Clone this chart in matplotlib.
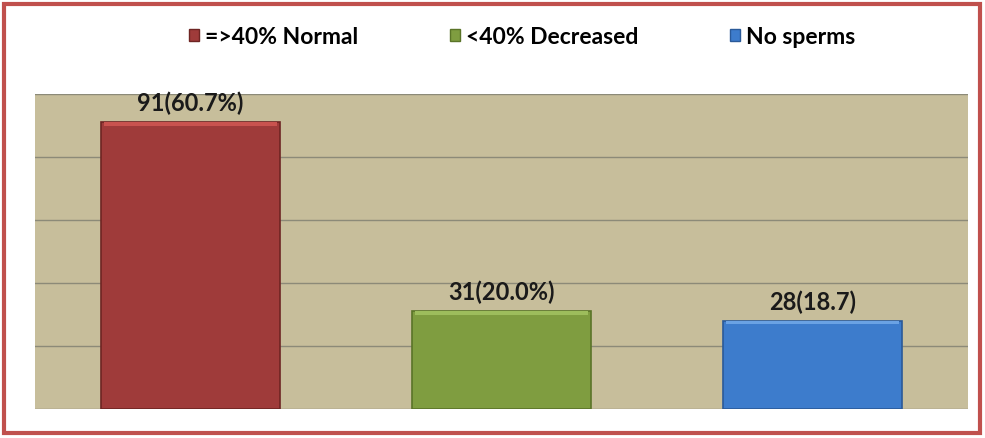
import matplotlib
matplotlib.use("Agg")
import matplotlib.pyplot as plt
from matplotlib.patches import Rectangle, Patch

# Semen analysis outcome counts
categories = ["=>40% Normal", "<40% Decreased", "No sperms"]
counts = [91, 31, 28]
labels = ["91(60.7%)", "31(20.0%)", "28(18.7)"]
y_ticks = [0, 20, 40, 60, 80, 100]

colors = ["#9f3b3a", "#7f9d40", "#3d7ccc"]
edges = ["#6e2523", "#5a7428", "#2a5a99"]

plt.rcParams['font.family'] = ['Lato', 'DejaVu Sans']

fig = plt.figure(figsize=(9.85, 4.39), dpi=100)
ax = fig.add_axes([35 / 985, 29 / 439, 933 / 985, 315 / 439])
ax.set_facecolor("#c7be9b")

x = range(len(categories))
bars = ax.bar(x, counts, width=0.575, color=colors, edgecolor=edges,
              linewidth=1.2, zorder=3)
# lighter strip along the top of each bar for the bevel look
for b, c in zip(bars, ["#c9534f", "#9dbd5c", "#6aa2e4"]):
    ax.bar(b.get_x() + b.get_width() / 2, 1.0, bottom=b.get_height() - 1.0,
           width=b.get_width() * 0.97, color=c, linewidth=0, zorder=4)

for xi, v, lab in zip(x, counts, labels):
    ax.text(xi, v + 2.5, lab, ha="center", va="bottom", fontsize=17,
            fontweight="bold", color="#1a1a1a", zorder=5)

ax.set_xlim(-0.5, 2.5)
ax.set_ylim(0, 100)
ax.set_yticks(y_ticks)
ax.grid(axis="y", color="#8c8a78", linewidth=1.0, zorder=1)
ax.tick_params(left=False, bottom=False, labelleft=False, labelbottom=False)
for s in ax.spines.values():
    s.set_visible(False)

handles = [Patch(facecolor=c, edgecolor=e) for c, e in zip(colors, edges)]
fig.legend(handles, categories, loc="center", bbox_to_anchor=(0.53, 1 - 38 / 439),
           ncol=3, frameon=False, prop={"size": 16.5, "weight": "bold"},
           handlelength=0.45, handleheight=0.45, handletextpad=0.25,
           columnspacing=4.0)

# red frame around the whole chart
fig.patches.append(Rectangle((4 / 985, 5 / 439), 976 / 985, 429 / 439,
                             transform=fig.transFigure, fill=False,
                             edgecolor="#c0504d", linewidth=3))

fig.savefig("out.png", dpi=100, facecolor="white")
